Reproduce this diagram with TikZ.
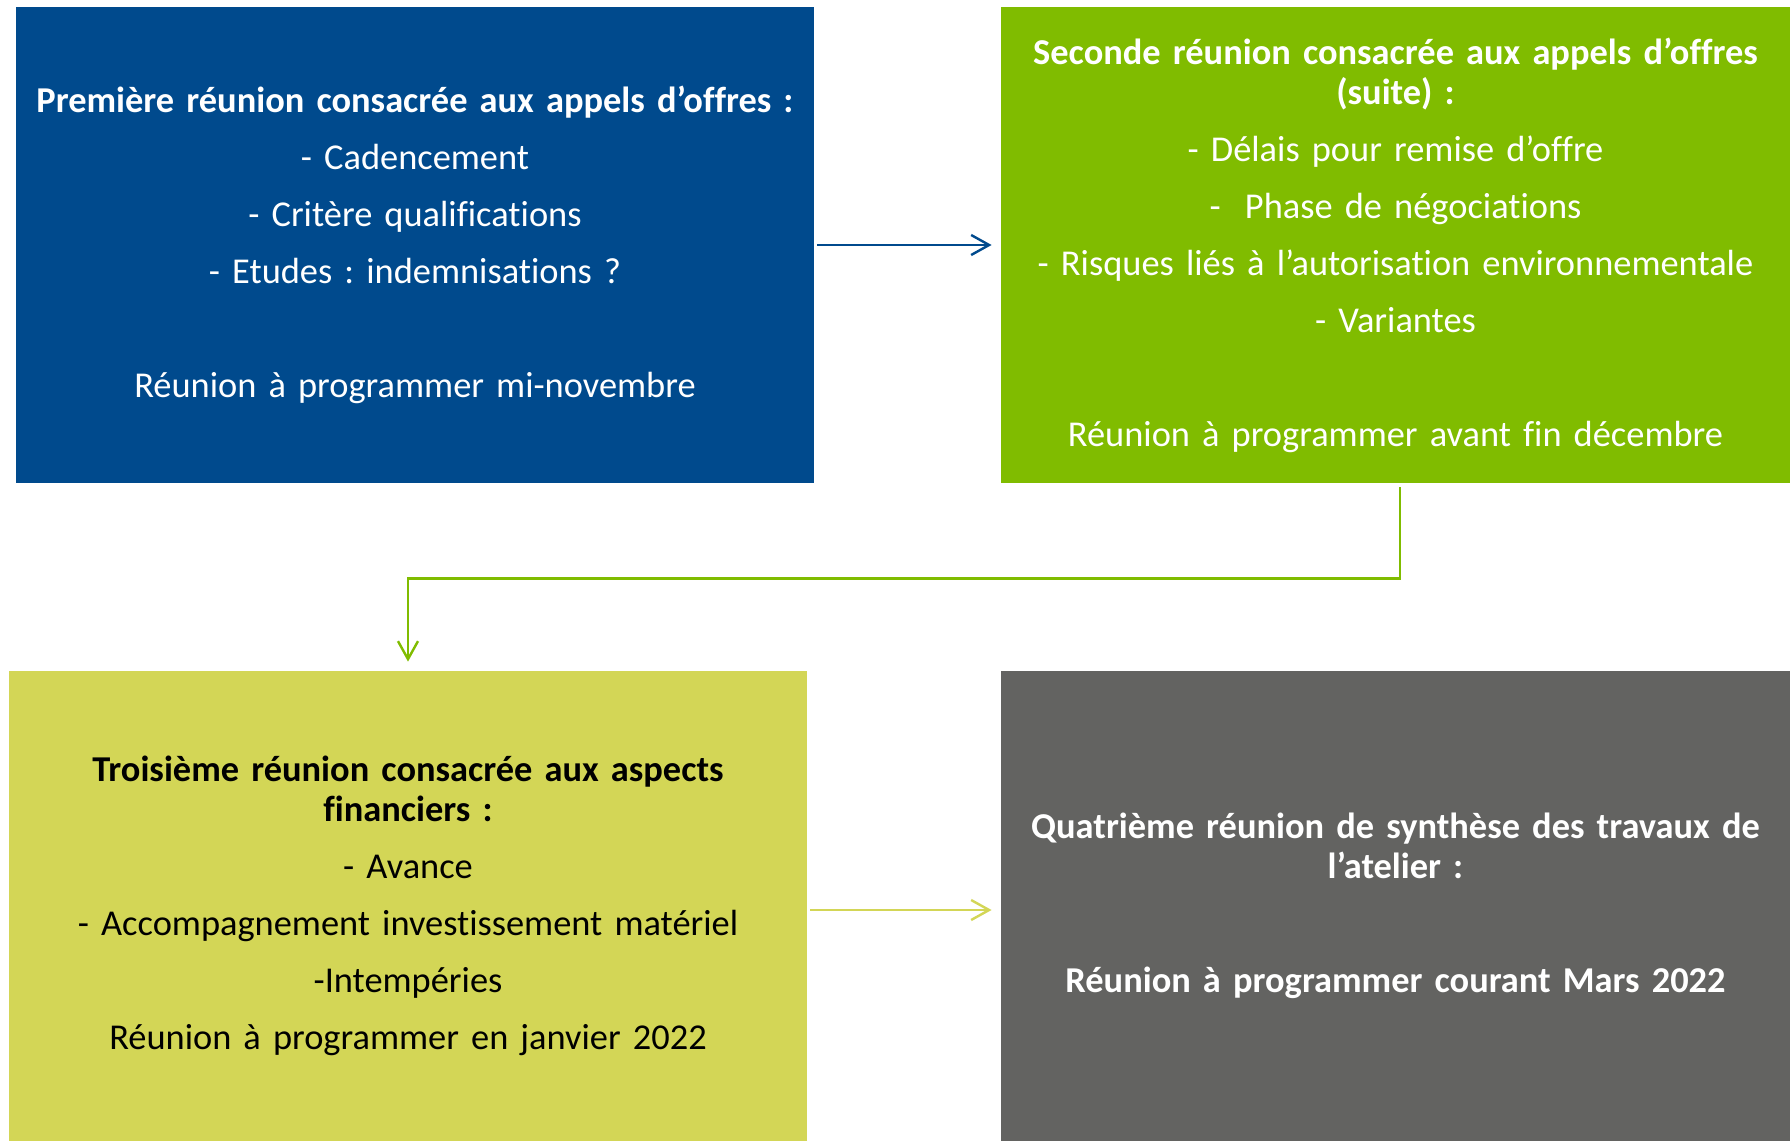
\documentclass[tikz,border=0pt]{standalone}
\usepackage{fontspec}
\setmainfont{Carlito}[Ligatures=NoCommon]
\usepackage{tikz}
\usetikzlibrary{arrows.meta}
\definecolor{bleu}{RGB}{0,74,141}
\definecolor{vert}{RGB}{128,188,0}
\definecolor{anis}{RGB}{211,214,86}
\definecolor{gris}{RGB}{99,99,97}
\newcommand{\saut}{\\[8.5pt]}
\frenchspacing
\begin{document}
\begin{tikzpicture}[x=0.5pt,y=-0.5pt,
    boite/.style={rectangle,inner sep=0pt,align=center,font=\fontsize{18.2}{20}\selectfont},
    fleche/.style={line width=1.2pt,-{Straight Barb[length=9pt,width=10pt,line width=1.2pt]}}]
     \useasboundingbox (0,0) rectangle (1790,1141);
     \node[boite,fill=bleu,text=white,minimum width=399pt,minimum height=238pt,text width=390pt] (premiere) at (415,245)
       {\textbf{Première réunion consacrée aux appels d’offres :}\saut
        - Cadencement\saut
        - Critère qualifications\saut
        - Etudes : indemnisations ?\saut
        \mbox{}\saut
        Réunion à programmer mi-novembre};
     \node[boite,fill=vert,text=white,minimum width=394.5pt,minimum height=238pt,text width=390pt] (seconde) at (1395.5,245)
       {\textbf{Seconde réunion consacrée aux appels d’offres}\\
        \textbf{(suite) :}\saut
        - Délais pour remise d’offre\saut
        -\ \ Phase de négociations\saut
        - Risques liés à l’autorisation environnementale\saut
        - Variantes\saut
        \mbox{}\saut
        Réunion à programmer avant fin décembre};
     \node[boite,fill=anis,text=black,minimum width=399pt,minimum height=235pt,text width=390pt] (troisieme) at (408,906)
       {\textbf{Troisième réunion consacrée aux aspects}\\
        \textbf{financiers :}\saut
        - Avance\saut
        - Accompagnement investissement matériel\saut
        -Intempéries\saut
        Réunion à programmer en janvier 2022};
     \node[boite,fill=gris,text=white,minimum width=394.5pt,minimum height=235pt,text width=390pt] (quatrieme) at (1395.5,906)
       {\textbf{Quatrième réunion de synthèse des travaux de}\\
        \textbf{l’atelier :}\saut
        \mbox{}\saut
        \textbf{Réunion à programmer courant Mars 2022}};
     \draw[fleche,color=bleu,shorten <=1.5pt,shorten >=4.5pt] (premiere.east) -- (seconde.west);
     \draw[fleche,color=vert,shorten <=2pt,shorten >=4.5pt] ([xshift=2.25pt]seconde.south) -- ++(0,95) -| (troisieme.north);
     \draw[fleche,color=anis,shorten <=1.5pt,shorten >=4.5pt] ([yshift=-2pt]troisieme.east) -- ([yshift=-2pt]quatrieme.west);
\end{tikzpicture}
\end{document}
